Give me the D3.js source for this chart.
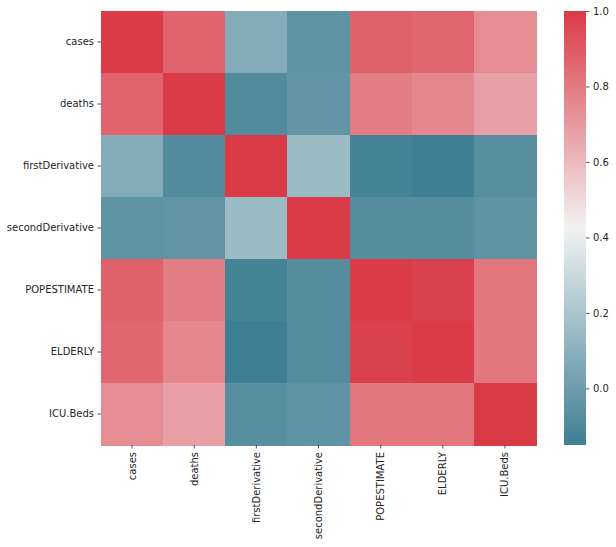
<!DOCTYPE html>
<html><head><meta charset="utf-8">
<script src="https://cdn.jsdelivr.net/npm/d3@7"></script>
<style>body{margin:0;background:#fff;} text{font-family:"DejaVu Sans",sans-serif;}</style>
</head><body><svg id="c" width="616" height="547"></svg>
<script>
const variables = ["cases","deaths","firstDerivative","secondDerivative","POPESTIMATE","ELDERLY","ICU.Beds"];
const corrValues = [
  [1.00, 0.87, 0.07, -0.05, 0.88, 0.86, 0.74],
  [0.87, 1.00, -0.09, -0.04, 0.79, 0.76, 0.68],
  [0.07, -0.09, 1.00, 0.15, -0.13, -0.15, -0.07],
  [-0.05, -0.04, 0.15, 1.00, -0.08, -0.08, -0.05],
  [0.88, 0.79, -0.13, -0.08, 1.00, 0.98, 0.81],
  [0.86, 0.76, -0.15, -0.08, 0.98, 1.00, 0.81],
  [0.74, 0.68, -0.07, -0.05, 0.81, 0.81, 1.00]
];
const colorbarTicks = [0.0, 0.2, 0.4, 0.6, 0.8, 1.0];

// HUSL -> RGB (for seaborn diverging_palette(220, 10))
const M = [[3.240969941904521,-1.537383177570093,-0.498610760293],[-0.96924363628087,1.87596750150772,0.041555057407175],[0.055630079696993,-0.20397695888897,1.056971514242878]];
function bounds(L){const sub1=Math.pow(L+16,3)/1560896;const sub2=sub1>0.0088564516?sub1:L/903.2962962;const out=[];
  for(const [m1,m2,m3] of M){for(const t of [0,1]){const top1=(284517*m1-94839*m3)*sub2;const top2=(838422*m3+769860*m2+731718*m1)*L*sub2-769860*t*L;const bot=(632260*m3-126452*m2)*sub2+126452*t;out.push([top1/bot,top2/bot]);}}return out;}
function maxChroma(L,H){const hr=H/360*Math.PI*2;let mn=Infinity;for(const [s,i] of bounds(L)){const len=i/(Math.sin(hr)-s*Math.cos(hr));if(len>=0)mn=Math.min(mn,len);}return mn;}
function husl(H,S,L){const C=maxChroma(L,H)/100*S;const hr=H/180*Math.PI;const U=Math.cos(hr)*C,V=Math.sin(hr)*C;
  const vu=U/(13*L)+0.19783000664283,vv=V/(13*L)+0.46831999493879;const Y=L<=8?L/903.2962962:Math.pow((L+16)/116,3);
  const X=-(9*Y*vu)/((vu-4)*vv-vu*vv);const Z=(9*Y-15*vv*Y-vv*X)/(3*vv);
  const f=c=>{c=c<=0.0031308?12.92*c:1.055*Math.pow(c,1/2.4)-0.055;return Math.max(0,Math.min(1,c))*255;};
  const rgb=M.map(r=>f(r[0]*X+r[1]*Y+r[2]*Z));return d3.rgb(rgb[0],rgb[1],rgb[2]);}
const negC=husl(220,75,50), negL=husl(220,75*0.15,95), mid=d3.rgb(0.95*255,0.95*255,0.95*255), posL=husl(10,75*0.15,95), posC=husl(10,75,50);
const cmap=d3.scaleLinear().domain([0,127/256,128/256,129/256,1]).range([negC,negL,mid,posL,posC]).interpolate(d3.interpolateRgb).clamp(true);

const vmin=d3.min(corrValues.flat()), vmax=d3.max(corrValues.flat());
const color=v=>cmap((v-vmin)/(vmax-vmin));

const svg=d3.select("#c");
const pL=101,pR=536,pT=11,pB=445;
const x=d3.scaleBand().domain(variables).range([pL,pR]);
const y=d3.scaleBand().domain(variables).range([pT,pB]);
const cells=[];corrValues.forEach((row,i)=>row.forEach((v,j)=>cells.push({r:variables[i],c:variables[j],v})));
svg.append("g").selectAll("rect").data(cells).join("rect")
  .attr("x",d=>x(d.c)).attr("y",d=>y(d.r)).attr("width",x.bandwidth()+0.5).attr("height",y.bandwidth()+0.5)
  .attr("fill",d=>color(d.v)).attr("shape-rendering","crispEdges");

const tc="#262626";
const xa=svg.append("g").attr("transform",`translate(0,${pB})`).call(d3.axisBottom(x).tickSize(3.5).tickPadding(3.5));
xa.select(".domain").remove();
xa.selectAll("line").attr("stroke",tc).attr("stroke-width",0.8);
xa.selectAll("text").attr("transform","rotate(-90)").attr("text-anchor","end").attr("dy","0.35em").attr("x",-7).attr("y",0)
  .attr("font-size",10).attr("fill",tc).attr("font-family","DejaVu Sans");
const ya=svg.append("g").attr("transform",`translate(${pL},0)`).call(d3.axisLeft(y).tickSize(3.5).tickPadding(3.5));
ya.select(".domain").remove();
ya.selectAll("line").attr("stroke",tc).attr("stroke-width",0.8);
ya.selectAll("text").attr("font-size",10).attr("fill",tc).attr("font-family","DejaVu Sans");

// colorbar
const cbx=564,cbw=22;
const cy=d3.scaleLinear().domain([vmin,vmax]).range([pB,pT]);
const defs=svg.append("defs");
const grad=defs.append("linearGradient").attr("id","g").attr("x1",0).attr("x2",0).attr("y1",1).attr("y2",0);
d3.range(0,1.0001,1/64).forEach(t=>grad.append("stop").attr("offset",t).attr("stop-color",cmap(t)));
svg.append("rect").attr("x",cbx).attr("y",pT).attr("width",cbw).attr("height",pB-pT).attr("fill","url(#g)");
const ca=svg.append("g").attr("transform",`translate(${cbx+cbw},0)`).call(d3.axisRight(cy).tickValues(colorbarTicks).tickFormat(d3.format(".1f")).tickSize(3.5).tickPadding(3.5));
ca.select(".domain").remove();
ca.selectAll("line").attr("stroke",tc).attr("stroke-width",0.8);
ca.selectAll("text").attr("font-size",10).attr("fill",tc).attr("font-family","DejaVu Sans");
</script></body></html>
